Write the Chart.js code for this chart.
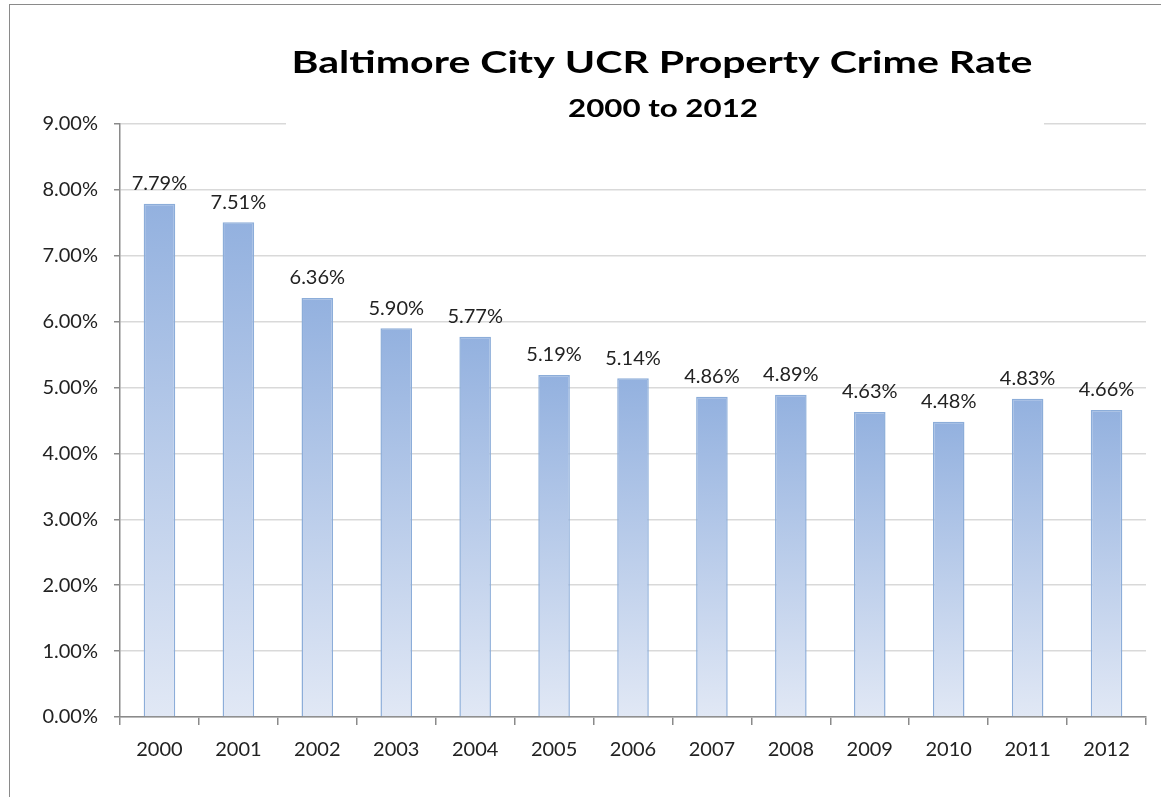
<!DOCTYPE html>
<html>
<head>
<meta charset="utf-8">
<script src="https://cdn.jsdelivr.net/npm/chart.js@4.4.0/dist/chart.umd.min.js"></script>
<style>
    html, body { margin: 0; padding: 0; background: #fff; }
    #frame {
        position: absolute; left: 9px; top: 4px; width: 1160px; height: 800px;
        border: 1.5px solid #8a8a8a; box-sizing: border-box;
    }
    #wrap { position: absolute; left: 0; top: 0; width: 1161px; height: 797px; }
</style>
</head>
<body>
<div id="frame"></div>
<div id="wrap"><canvas id="chart1"></canvas></div>
<script>
// данные
const years = ['2000', '2001', '2002', '2003', '2004', '2005', '2006', '2007', '2008', '2009', '2010', '2011', '2012'];
const crimeRate = [7.79, 7.51, 6.36, 5.90, 5.77, 5.19, 5.14, 4.86, 4.89, 4.63, 4.48, 4.83, 4.66];
const yTicks = [0, 1, 2, 3, 4, 5, 6, 7, 8, 9];

const FONT = "Lato, 'Open Sans', sans-serif";

// градиент на каждый столбик
function barFill(ctx) {
    const chart = ctx.chart;
    const y = chart.scales.y;
    if (!y || ctx.raw === undefined) return '#95b3e0';
    const top = y.getPixelForValue(ctx.raw);
    const base = y.getPixelForValue(0);
    if (!isFinite(top) || !isFinite(base) || top === base) return '#95b3e0';
    const g = chart.ctx.createLinearGradient(0, top, 0, base);
    g.addColorStop(0, '#93b1df');
    g.addColorStop(1, '#e1e8f5');
    return g;
}

// текст, растянутый по ширине (как в Excel-картинке)
function stretchText(c, text, cx, cy, width) {
    const w = c.measureText(text).width;
    c.save();
    c.translate(cx, cy);
    c.scale(width / w, 1);
    c.fillText(text, 0, 0);
    c.restore();
}

// заголовок поверх сетки
const titlePlugin = {
    id: 'excelTitle',
    afterDraw(chart) {
        const c = chart.ctx;
        c.save();
        c.fillStyle = '#fff';
        c.fillRect(286, 40, 758, 90);
        c.fillStyle = '#000';
        c.textAlign = 'center';
        c.textBaseline = 'middle';
        c.font = "bold 31px " + FONT;
        stretchText(c, 'Baltimore City UCR Property Crime Rate', 662, 63, 741);
        c.font = "bold 24px " + FONT;
        stretchText(c, '2000 to 2012', 663, 109, 190);
        c.restore();
    }
};

// подписи значений
const valueLabels = {
    id: 'valueLabels',
    afterDatasetsDraw(chart) {
        const c = chart.ctx;
        const meta = chart.getDatasetMeta(0);
        c.save();
        c.fillStyle = '#222';
        c.font = "20px " + FONT;
        c.textAlign = 'center';
        c.textBaseline = 'middle';
        meta.data.forEach((bar, i) => {
            c.fillText(crimeRate[i].toFixed(2) + '%', bar.x, bar.y - 20);
        });
        c.restore();
    }
};

new Chart(document.getElementById('chart1'), {
    type: 'bar',
    data: {
        labels: years,
        datasets: [{
            data: crimeRate,
            backgroundColor: barFill,
            borderColor: '#8cadd9',
            borderWidth: 1.5,
            barPercentage: 0.5,
            categoryPercentage: 0.8
        }]
    },
    options: {
        responsive: true,
        maintainAspectRatio: false,
        animation: false,
        events: [],
        layout: { padding: { top: 124, right: 15, bottom: 30, left: 0 } },
        plugins: {
            legend: { display: false },
            tooltip: { enabled: false }
        },
        scales: {
            x: {
                afterFit: s => { s.height = 50; },
                grid: {
                    offset: true,
                    drawOnChartArea: false,
                    drawTicks: true,
                    tickLength: 8,
                    tickColor: '#8a8a8a',
                    lineWidth: 1.5
                },
                border: { color: '#8a8a8a', width: 1.5 },
                ticks: {
                    color: '#222',
                    padding: 13,
                    font: { family: FONT, size: 20 }
                }
            },
            y: {
                min: 0,
                max: 9,
                afterFit: s => { s.width = 120; },
                afterBuildTicks: s => { s.ticks = yTicks.map(v => ({ value: v })); },
                grid: {
                    color: '#d9d9d9',
                    lineWidth: 1.5,
                    tickLength: 6,
                    tickColor: '#8a8a8a'
                },
                border: { color: '#8a8a8a', width: 1.5 },
                ticks: {
                    color: '#222',
                    padding: 16,
                    font: { family: FONT, size: 20 },
                    callback: v => v.toFixed(2) + '%'
                }
            }
        }
    },
    plugins: [valueLabels, titlePlugin]
});
</script>
</body>
</html>
